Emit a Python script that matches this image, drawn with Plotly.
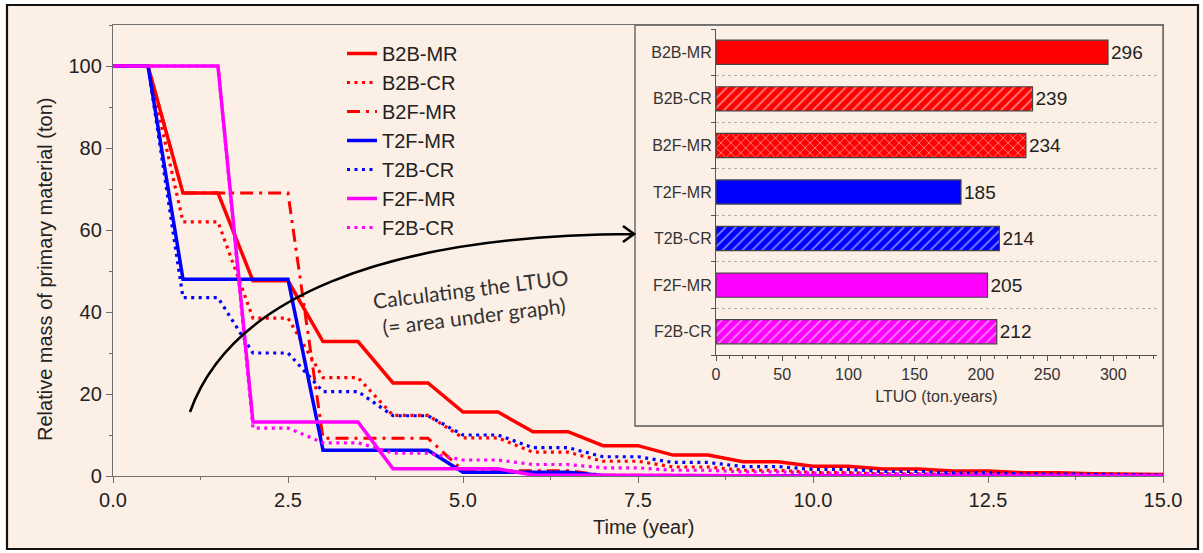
import plotly.graph_objects as go

# ---------------- data ----------------
time_years = [0, 0.5, 1, 1.5, 2, 2.5, 3, 3.5, 4, 4.5, 5, 5.5, 6, 6.5, 7, 7.5,
              8, 8.5, 9, 9.5, 10, 10.5, 11, 11.5, 12, 12.5, 13, 13.5, 14, 14.5, 15]

b2b_mr = [100, 100, 69, 69, 47.6, 47.6, 32.8, 32.8, 22.7, 22.7, 15.6, 15.6, 10.8, 10.8, 7.4, 7.4,
          5.1, 5.1, 3.5, 3.5, 2.4, 2.4, 1.7, 1.7, 1.2, 1.2, 0.8, 0.8, 0.55, 0.55, 0.38]
b2b_cr = [100, 100, 62, 62, 38.5, 38.5, 24, 24, 14.8, 14.8, 9.3, 9.3, 5.8, 5.8, 3.6, 3.6,
          2.2, 2.2, 1.4, 1.4, 0.85, 0.85, 0.53, 0.53, 0.33, 0.33, 0.2, 0.2, 0.13, 0.13, 0.08]
b2f_mr = [100, 100, 69, 69, 69, 69, 9.2, 9.2, 9.2, 9.2, 1.3, 1.3, 1.3, 1.3, 0.18, 0.18,
          0.18, 0.18, 0.03, 0.03, 0.03, 0.03, 0, 0, 0, 0, 0, 0, 0, 0, 0]
t2f_mr = [100, 100, 48, 48, 48, 48, 6.3, 6.3, 6.3, 6.3, 0.9, 0.9, 0.9, 0.9, 0.12, 0.12,
          0.12, 0.12, 0.02, 0.02, 0.02, 0.02, 0, 0, 0, 0, 0, 0, 0, 0, 0]
t2b_cr = [100, 100, 43.5, 43.5, 30, 30, 20.6, 20.6, 14.7, 14.7, 10, 10, 6.9, 6.9, 4.7, 4.7,
          3.3, 3.3, 2.3, 2.3, 1.6, 1.6, 1.1, 1.1, 0.75, 0.75, 0.52, 0.52, 0.36, 0.36, 0.25]
f2f_mr = [100, 100, 100, 100, 13.2, 13.2, 13.2, 13.2, 1.75, 1.75, 1.75, 1.75, 0.23, 0.23, 0.23, 0.23,
          0.03, 0.03, 0.03, 0.03, 0, 0, 0, 0, 0, 0, 0, 0, 0, 0, 0]
f2b_cr = [100, 100, 100, 100, 11.7, 11.7, 8.1, 8.1, 5.6, 5.6, 3.9, 3.9, 2.8, 2.8, 2.0, 2.0,
          1.4, 1.4, 1.0, 1.0, 0.7, 0.7, 0.5, 0.5, 0.35, 0.35, 0.25, 0.25, 0.18, 0.18, 0.13]

scenarios = ["B2B-MR", "B2B-CR", "B2F-MR", "T2F-MR", "T2B-CR", "F2F-MR", "F2B-CR"]
ltuo = [296, 239, 234, 185, 214, 205, 212]

# ---------------- styles ----------------
RED, BLUE, MAG = "#FF0000", "#0000FF", "#FF00FF"
BG = "#FCEFE5"
AX = "#6E6E6E"
TXT = "#222222"
FONT = "Liberation Sans, Arial, sans-serif"

line_styles = [
    (b2b_mr, RED, "solid", 3.5),
    (b2b_cr, RED, "3px,4.5px", 3.2),
    (b2f_mr, RED, "13px,6px,3px,6px", 3),
    (t2f_mr, BLUE, "solid", 3.5),
    (t2b_cr, BLUE, "3px,4.5px", 3.2),
    (f2f_mr, MAG, "solid", 3.5),
    (f2b_cr, MAG, "3px,4.5px", 3.2),
]
bar_colors = [RED, RED, RED, BLUE, BLUE, MAG, MAG]
bar_patterns = ["", "/", "x", "", "/", "", "/"]

fig = go.Figure()

for name, (vals, col, dash, w) in zip(scenarios, line_styles):
    fig.add_trace(go.Scatter(
        x=time_years, y=vals, mode="lines", name=name,
        line=dict(color=col, width=w, dash=dash),
        xaxis="x", yaxis="y",
    ))

fig.add_trace(go.Bar(
    x=ltuo, y=scenarios, orientation="h", xaxis="x2", yaxis="y2",
    width=0.52, showlegend=False,
    marker=dict(
        color=bar_colors,
        line=dict(color="#444444", width=1.2),
        pattern=dict(shape=bar_patterns, fgcolor="white",
                     size=7, solidity=0.25, fillmode="overlay"),
    ),
    texttemplate="%{x}", textposition="outside", cliponaxis=False,
    textfont=dict(size=19, color=TXT, family=FONT),
))

# ---------------- geometry helpers (pixel -> paper) ----------------
ML, MR, MT, MB = 113, 40, 25, 77
W, H = 1203, 553
PW, PH = W - ML - MR, H - MT - MB


def px(xp):
    return (xp - ML) / PW


def py(yp):
    return (H - MB - yp) / PH


fig.update_layout(
    width=W, height=H,
    margin=dict(l=ML, r=MR, t=MT, b=MB),
    paper_bgcolor="white",
    plot_bgcolor="rgba(0,0,0,0)",
    font=dict(family=FONT, color=TXT, size=20),
    showlegend=True,
    legend=dict(
        x=px(342), y=py(34), xanchor="left", yanchor="top",
        bgcolor="rgba(0,0,0,0)", font=dict(size=20, color=TXT, family=FONT),
        tracegroupgap=0,
    ),
    xaxis=dict(
        domain=[0, 1], range=[0, 15], dtick=2.5, tick0=0, tickformat=".1f",
        ticks="outside", ticklen=6, tickwidth=1.3, tickcolor=AX,
        minor=dict(dtick=1.25, ticks="outside", ticklen=3, tickcolor=AX, tickwidth=1.3),
        showline=True, linecolor=AX, linewidth=1.3, mirror=True,
        showgrid=False, zeroline=False,
        tickfont=dict(size=20, color=TXT, family=FONT),
        anchor="y",
    ),
    yaxis=dict(
        domain=[0, 1], range=[0, 110], dtick=20, tick0=0,
        ticks="outside", ticklen=6, tickwidth=1.3, tickcolor=AX,
        minor=dict(dtick=10, ticks="outside", ticklen=3, tickcolor=AX, tickwidth=1.3),
        showline=True, linecolor=AX, linewidth=1.3, mirror=True,
        showgrid=False, zeroline=False,
        tickfont=dict(size=20, color=TXT, family=FONT),
        anchor="x",
    ),
    xaxis2=dict(
        domain=[px(716), px(1157)], range=[0, 333], dtick=50, tick0=0,
        ticks="outside", ticklen=5, tickwidth=1.2, tickcolor="#555",
        minor=dict(dtick=10, ticks="outside", ticklen=3, tickcolor="#555", tickwidth=1),
        showline=True, linecolor="#555", linewidth=1.2,
        showgrid=False, zeroline=False, anchor="y2",
        tickfont=dict(size=16, color="#333", family=FONT),
        title=dict(text="LTUO (ton.years)", font=dict(size=16, color="#333", family=FONT), standoff=8),
    ),
    yaxis2=dict(
        domain=[py(355), py(29)], type="category",
        categoryorder="array", categoryarray=scenarios[::-1],
        tickson="boundaries", ticks="outside", ticklen=4, tickcolor="#555",
        showline=True, linecolor="#555", linewidth=1.2,
        showgrid=True, gridcolor="#B0B0B0", griddash="dot", gridwidth=1,
        zeroline=False, anchor="x2",
        tickfont=dict(size=16, color="#333", family=FONT),
    ),
)

# axis titles of main chart
fig.add_annotation(xref="paper", yref="paper", x=px(45), y=py(270),
                   xanchor="center", yanchor="middle",
                   text="Relative mass of primary material (ton)", textangle=-90,
                   showarrow=False, font=dict(size=20, color=TXT, family=FONT))
fig.add_annotation(xref="paper", yref="paper", x=px(643), y=py(527),
                   xanchor="center", yanchor="middle",
                   text="Time (year)", showarrow=False,
                   font=dict(size=20, color=TXT, family=FONT))

# outer framed background
fig.add_shape(type="rect", xref="paper", yref="paper",
              x0=px(7), x1=px(1198), y0=py(549), y1=py(5),
              fillcolor=BG, line=dict(color="#111111", width=2.2), layer="below")
# inset frame
fig.add_shape(type="rect", xref="paper", yref="paper",
              x0=px(635), x1=px(1163), y0=py(426), y1=py(25),
              fillcolor=BG, line=dict(color="#555555", width=1.3), layer="below")

# curved arrow (decoration)
P = [(190, 412), (230, 300), (380, 235), (634, 234)]
A1, A2 = (623, 226), (623, 242)
fmt = lambda p: f"{px(p[0]):.5f},{py(p[1]):.5f}"
path = (f"M {fmt(P[0])} C {fmt(P[1])} {fmt(P[2])} {fmt(P[3])} "
        f"M {fmt(A1)} L {fmt(P[3])} L {fmt(A2)}")
fig.add_shape(type="path", xref="paper", yref="paper", path=path,
              line=dict(color="black", width=2.6), layer="above")

fig.add_annotation(
    xref="paper", yref="paper", x=px(472), y=py(302),
    xanchor="center", yanchor="middle",
    text="Calculating the LTUO<br>(= area under graph)",
    showarrow=False, textangle=-7, align="center",
    font=dict(family="Lato, Open Sans, sans-serif", size=21, color="#333333"),
)

fig.write_html("out.html")
